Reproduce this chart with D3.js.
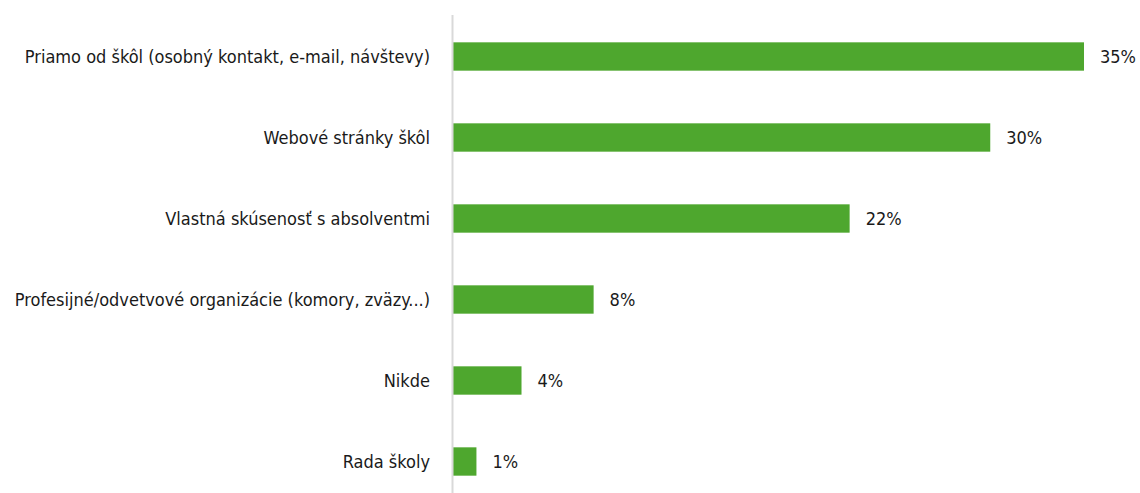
<!DOCTYPE html>
<html>
<head>
<meta charset="utf-8">
<script src="https://cdn.jsdelivr.net/npm/d3@7"></script>
<style>
  html, body { margin: 0; padding: 0; background: #ffffff; }
  svg text { font-family: "Liberation Sans Narrow", "DejaVu Sans Condensed", "Roboto", sans-serif; fill: #1a1a1a; }
</style>
</head>
<body>
<svg id="chart" width="1140" height="493"></svg>
<script>
const categories = [
  "Priamo od škôl (osobný kontakt, e-mail, návštevy)",
  "Webové stránky škôl",
  "Vlastná skúsenosť s absolventmi",
  "Profesijné/odvetvové organizácie (komory, zväzy...)",
  "Nikde",
  "Rada školy"
];
const values = [35.0, 29.8, 22.0, 7.8, 3.8, 1.3];
const valueLabels = ["35%", "30%", "22%", "8%", "4%", "1%"];

const svg = d3.select("#chart");
const plotLeft = 453, plotTop = 16, plotBottom = 493;
const x = d3.scaleLinear().domain([0, 35]).range([plotLeft, 1084]);
const y = d3.scaleBand().domain(categories).range([plotTop, plotTop + 81 * 6]).paddingInner(0.65).paddingOuter(0.325);

svg.append("g").selectAll("rect").data(categories).join("rect")
  .attr("x", x(0))
  .attr("y", d => y(d))
  .attr("width", (d, i) => x(values[i]) - x(0))
  .attr("height", y.bandwidth())
  .attr("fill", "#4ea72e");

svg.append("line")
  .attr("x1", plotLeft - 0.5).attr("x2", plotLeft - 0.5)
  .attr("y1", 15).attr("y2", plotBottom)
  .attr("stroke", "#d9d9d9").attr("stroke-width", 2);

svg.append("g").selectAll("text").data(categories).join("text")
  .attr("x", 430)
  .attr("y", d => y(d) + y.bandwidth() / 2)
  .attr("dy", "0.35em")
  .attr("text-anchor", "end")
  .attr("font-size", 18)
  .text(d => d);

svg.append("g").selectAll("text").data(categories).join("text")
  .attr("x", (d, i) => x(values[i]) + 16)
  .attr("y", d => y(d) + y.bandwidth() / 2)
  .attr("dy", "0.35em")
  .attr("font-size", 18)
  .text((d, i) => valueLabels[i]);
</script>
</body>
</html>
